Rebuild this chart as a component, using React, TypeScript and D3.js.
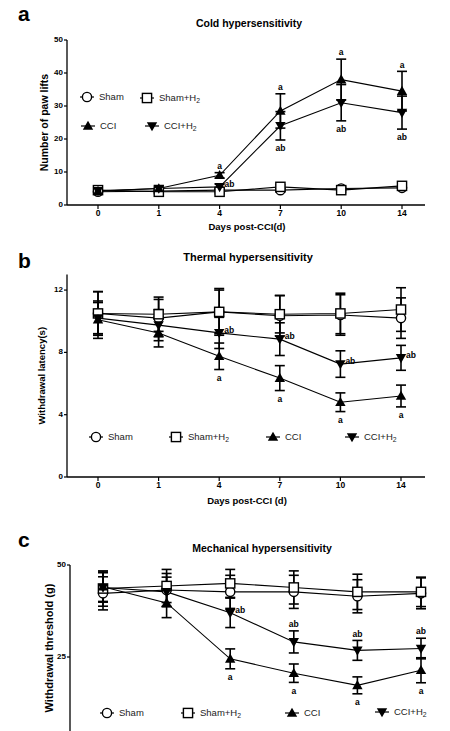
import * as d3 from 'd3';

const days = ['0', '1', '4', '7', '10', '14'];

// a: cold hypersensitivity (number of paw lifts)
const coldSham = [4.0, 4.2, 4.5, 4.5, 5.0, 5.2];
const coldShamErr = [0.6, 0.6, 0.6, 0.6, 0.6, 0.6];
const coldShamH2 = [4.5, 4.0, 4.0, 5.5, 4.5, 5.8];
const coldShamH2Err = [0.6, 0.6, 0.6, 0.6, 0.6, 0.6];
const coldCCI = [4.2, 5.0, 9.0, 28.5, 38.0, 34.5];
const coldCCIErr = [0.6, 0.8, 0.8, 5.2, 6.2, 6.0];
const coldCCIH2 = [4.3, 5.0, 5.5, 24.0, 31.0, 28.0];
const coldCCIH2Err = [0.6, 0.8, 0.8, 4.3, 5.5, 5.0];

// b: thermal hypersensitivity (withdrawal latency, s)
const thermSham = [10.5, 10.2, 10.6, 10.35, 10.4, 10.2];
const thermShamErr = [1.4, 1.2, 1.4, 1.3, 1.3, 1.3];
const thermShamH2 = [10.5, 10.45, 10.6, 10.45, 10.5, 10.75];
const thermShamH2Err = [1.4, 1.1, 1.5, 1.2, 1.3, 1.4];
const thermCCI = [10.1, 9.25, 7.75, 6.35, 4.8, 5.2];
const thermCCIErr = [1.2, 0.9, 0.85, 0.8, 0.6, 0.7];
const thermCCIH2 = [10.2, 9.75, 9.25, 8.85, 7.25, 7.65];
const thermCCIH2Err = [1.0, 1.0, 1.0, 1.05, 0.85, 0.8];

// c: mechanical hypersensitivity (withdrawal threshold, g)
const mechSham = [42.3, 43.2, 42.7, 42.7, 41.5, 42.3];
const mechShamErr = [4.5, 4.5, 4.5, 4.5, 4.5, 4.2];
const mechShamH2 = [43.6, 44.3, 45.0, 43.9, 42.7, 42.7];
const mechShamH2Err = [4.8, 4.5, 3.8, 4.5, 4.8, 4.0];
const mechCCI = [44.1, 39.7, 24.5, 20.6, 17.3, 21.4];
const mechCCIErr = [4.0, 4.0, 2.7, 2.5, 2.3, 3.4];
const mechCCIH2 = [43.9, 42.7, 37.0, 29.1, 26.8, 27.3];
const mechCCIH2Err = [4.0, 4.0, 4.0, 3.0, 2.7, 2.8];

type Shape = 'circle' | 'square' | 'up' | 'down';
const shapes: Shape[] = ['circle', 'square', 'up', 'down'];
const seriesLabels = ['Sham', 'Sham+H2', 'CCI', 'CCI+H2'];

// significance marks: [day index, series index, text, where]
type Note = [number, number, string, 'above' | 'below' | 'right'];
const coldNotes: Note[] = [
  [2, 2, 'a', 'above'], [2, 3, 'ab', 'right'],
  [3, 2, 'a', 'above'], [3, 3, 'ab', 'below'],
  [4, 2, 'a', 'above'], [4, 3, 'ab', 'below'],
  [5, 2, 'a', 'above'], [5, 3, 'ab', 'below'],
];
const thermNotes: Note[] = [
  [2, 2, 'a', 'below'], [2, 3, 'ab', 'right'],
  [3, 2, 'a', 'below'], [3, 3, 'ab', 'right'],
  [4, 2, 'a', 'below'], [4, 3, 'ab', 'right'],
  [5, 2, 'a', 'below'], [5, 3, 'ab', 'right'],
];
const mechNotes: Note[] = [
  [2, 2, 'a', 'below'], [2, 3, 'ab', 'right'],
  [3, 2, 'a', 'below'], [3, 3, 'ab', 'above'],
  [4, 2, 'a', 'below'], [4, 3, 'ab', 'above'],
  [5, 2, 'a', 'below'], [5, 3, 'ab', 'above'],
];

const FONT = "'Liberation Sans', Arial, sans-serif";

function Marker({ shape, x, y }: { shape: Shape; x: number; y: number }) {
  if (shape === 'circle')
    return <circle cx={x} cy={y} r={4.6} fill="#fff" stroke="#000" strokeWidth={1.4} />;
  if (shape === 'square')
    return <rect x={x - 4.6} y={y - 4.6} width={9.2} height={9.2} fill="#fff" stroke="#000" strokeWidth={1.4} />;
  const s = shape === 'up' ? 1 : -1;
  const pts = [[0, -5.3 * s], [5.2, 3.8 * s], [-5.2, 3.8 * s]].map((p) => [x + p[0], y + p[1]].join(',')).join(' ');
  return <polygon points={pts} fill="#000" />;
}

function Label({ text, x, y, size }: { text: string; x: number; y: number; size: number }) {
  const h2 = text.endsWith('+H2');
  return (
    <text x={x} y={y} fontFamily={FONT} fontSize={size} dominantBaseline="middle" fill="#222">
      {h2 ? text.slice(0, -1) : text}
      {h2 && <tspan dy={3} fontSize={size * 0.72}>2</tspan>}
    </text>
  );
}

interface PanelProps {
  letter: string;
  letterX: number;
  letterY: number;
  title: string;
  titleX: number;
  titleY: number;
  titleSize: number;
  axisX: number;
  axisEnd: number;
  pointRange: [number, number];
  yDomain: [number, number];
  yRange: [number, number];
  yTicks: number[];
  yTitle: string;
  yTitleX: number;
  yTitleSize: number;
  xTitle?: string;
  xTitleY?: number;
  showXAxis: boolean;
  values: number[][];
  errors: number[][];
  notes: Note[];
  legend: [number, number][];
}

function Panel(p: PanelProps) {
  const x = d3.scalePoint<string>().domain(days).range(p.pointRange);
  const y = d3.scaleLinear().domain(p.yDomain).range(p.yRange);
  const line = d3
    .line<number>()
    .x((_, i) => x(days[i]) as number)
    .y((d) => y(d));
  const y0 = y(p.yDomain[0]);
  const yTop = y(p.yDomain[1]);
  const yMid = (Math.min(y0, 731) + yTop) / 2;

  return (
    <g>
      <text x={p.letterX} y={p.letterY} fontFamily={FONT} fontWeight="bold" fontSize={21}>
        {p.letter}
      </text>
      <text x={p.titleX} y={p.titleY} fontFamily={FONT} fontWeight="bold" fontSize={p.titleSize} textAnchor="middle">
        {p.title}
      </text>

      {/* y axis */}
      <line x1={p.axisX} x2={p.axisX} y1={yTop} y2={y0} stroke="#000" strokeWidth={1.3} />
      {p.yTicks.map((t) => (
        <g key={t}>
          <line x1={p.axisX - 3} x2={p.axisX} y1={y(t)} y2={y(t)} stroke="#000" strokeWidth={1.2} />
          <text x={p.axisX - 4} y={y(t)} fontFamily={FONT} fontWeight="bold" fontSize={8} textAnchor="end" dominantBaseline="middle">
            {t}
          </text>
        </g>
      ))}
      <text
        transform={`translate(${p.yTitleX},${yMid}) rotate(-90)`}
        fontFamily={FONT}
        fontWeight="bold"
        fontSize={p.yTitleSize}
        textAnchor="middle"
        dominantBaseline="middle"
      >
        {p.yTitle}
      </text>

      {/* x axis */}
      {p.showXAxis && (
        <g>
          <line x1={p.axisX} x2={p.axisEnd} y1={y0} y2={y0} stroke="#000" strokeWidth={1.3} />
          {days.map((d) => (
            <g key={d}>
              <line x1={x(d)} x2={x(d)} y1={y0} y2={y0 + 4} stroke="#000" strokeWidth={1.2} />
              <text x={x(d)} y={y0 + 11} fontFamily={FONT} fontWeight="bold" fontSize={8.5} textAnchor="middle">
                {d}
              </text>
            </g>
          ))}
          <text x={(p.axisX + p.axisEnd) / 2 + 1} y={p.xTitleY} fontFamily={FONT} fontWeight="bold" fontSize={9.5} textAnchor="middle">
            {p.xTitle}
          </text>
        </g>
      )}

      {/* series lines */}
      {p.values.map((vals, s) => (
        <path key={`l${s}`} d={line(vals) ?? ''} fill="none" stroke="#000" strokeWidth={1.1} />
      ))}
      {/* error bars */}
      {p.values.map((vals, s) =>
        vals.map((v, i) => {
          const cx = x(days[i]) as number;
          const hi = y(v + p.errors[s][i]);
          const lo = y(v - p.errors[s][i]);
          return (
            <g key={`e${s}-${i}`} stroke="#000" strokeWidth={1.6}>
              <line x1={cx} x2={cx} y1={hi} y2={lo} />
              <line x1={cx - 5} x2={cx + 5} y1={hi} y2={hi} />
              <line x1={cx - 5} x2={cx + 5} y1={lo} y2={lo} />
            </g>
          );
        })
      )}
      {/* markers */}
      {p.values.map((vals, s) =>
        vals.map((v, i) => <Marker key={`m${s}-${i}`} shape={shapes[s]} x={x(days[i]) as number} y={y(v)} />)
      )}

      {/* significance letters */}
      {p.notes.map(([i, s, txt, where], k) => {
        const cx = x(days[i]) as number;
        const v = p.values[s][i];
        const e = p.errors[s][i];
        let tx = cx;
        let ty = y(v);
        let anchor = 'middle';
        if (where === 'above') ty = y(v + e) - 6;
        if (where === 'below') ty = y(v - e) + 9;
        if (where === 'right') {
          tx = cx + 5;
          anchor = 'start';
          ty = y(v) - 2;
        }
        return (
          <text key={k} x={tx} y={ty} fontFamily={FONT} fontWeight="bold" fontSize={8.5} textAnchor={anchor} dominantBaseline="middle">
            {txt}
          </text>
        );
      })}

      {/* legend */}
      {p.legend.map(([lx, ly], s) => (
        <g key={`lg${s}`}>
          <line x1={lx - 7} x2={lx + 7} y1={ly} y2={ly} stroke="#000" strokeWidth={1.2} />
          <Marker shape={shapes[s]} x={lx} y={ly} />
          <Label text={seriesLabels[s]} x={lx + 12} y={ly} size={9.5} />
        </g>
      ))}
    </g>
  );
}

export default function App() {
  return (
    <svg width={450} height={731} style={{ position: 'absolute', left: 0, top: 0, background: '#fff' }}>
      <rect width={450} height={731} fill="#fff" />
      <Panel
        letter="a"
        letterX={18}
        letterY={21}
        title="Cold hypersensitivity"
        titleX={249}
        titleY={27}
        titleSize={10.5}
        axisX={67}
        axisEnd={425}
        pointRange={[98, 402]}
        yDomain={[0, 50]}
        yRange={[205, 40]}
        yTicks={[0, 10, 20, 30, 40, 50]}
        yTitle="Number of paw lifts"
        yTitleX={45}
        yTitleSize={10.5}
        xTitle="Days post-CCI(d)"
        xTitleY={230}
        showXAxis
        values={[coldSham, coldShamH2, coldCCI, coldCCIH2]}
        errors={[coldShamErr, coldShamH2Err, coldCCIErr, coldCCIH2Err]}
        notes={coldNotes}
        legend={[[87, 97], [147, 98], [88, 126], [152, 126]]}
      />
      <Panel
        letter="b"
        letterX={18}
        letterY={268}
        title="Thermal hypersensitivity"
        titleX={248}
        titleY={261}
        titleSize={11}
        axisX={67}
        axisEnd={425}
        pointRange={[98, 401]}
        yDomain={[0, 13]}
        yRange={[477, 274.5]}
        yTicks={[0, 4, 8, 12]}
        yTitle="Withdrawal latency(s)"
        yTitleX={42}
        yTitleSize={9.5}
        xTitle="Days post-CCI (d)"
        xTitleY={504}
        showXAxis
        values={[thermSham, thermShamH2, thermCCI, thermCCIH2]}
        errors={[thermShamErr, thermShamH2Err, thermCCIErr, thermCCIH2Err]}
        notes={thermNotes}
        legend={[[96, 437], [176, 437], [273, 437], [352, 437]]}
      />
      <Panel
        letter="c"
        letterX={18}
        letterY={547}
        title="Mechanical hypersensitivity"
        titleX={262}
        titleY={552}
        titleSize={10.5}
        axisX={70}
        axisEnd={440}
        pointRange={[103, 421]}
        yDomain={[0, 50]}
        yRange={[749, 565]}
        yTicks={[25, 50]}
        yTitle="Withdrawal threshold (g)"
        yTitleX={50}
        yTitleSize={11}
        showXAxis={false}
        values={[mechSham, mechShamH2, mechCCI, mechCCIH2]}
        errors={[mechShamErr, mechShamH2Err, mechCCIErr, mechCCIH2Err]}
        notes={mechNotes}
        legend={[[107, 713], [188, 713], [292, 713], [382, 712]]}
      />
    </svg>
  );
}
